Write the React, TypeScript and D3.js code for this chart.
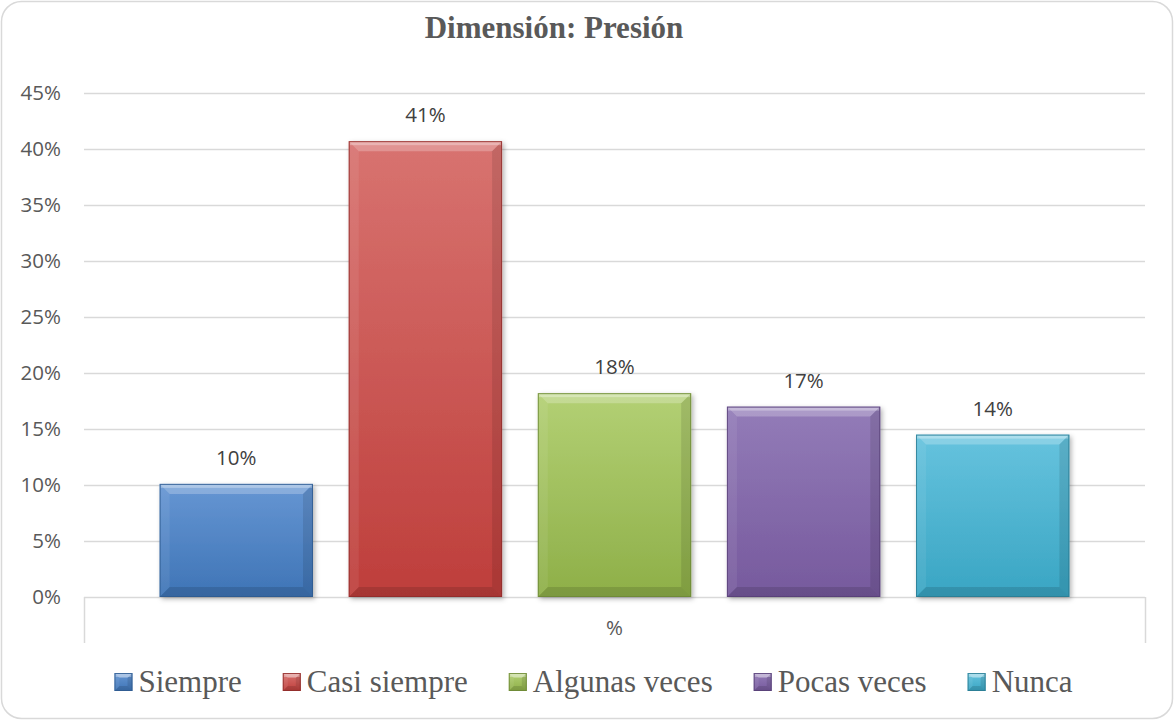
import React, { useEffect, useRef } from "react";
import * as d3 from "d3";

const title = "Dimensión: Presión";
const categories = ["%"];
const series = ["Siempre", "Casi siempre", "Algunas veces", "Pocas veces", "Nunca"];
const values = [0.101, 0.407, 0.182, 0.170, 0.145];
const yTicks = [0, 0.05, 0.1, 0.15, 0.2, 0.25, 0.3, 0.35, 0.4, 0.45];
const colorsTop = ["#6696d3", "#d87370", "#b3d074", "#937cb8", "#66c3de"];
const colorsBottom = ["#3e74b6", "#be3e3b", "#8eaf48", "#76599d", "#39a5c3"];
const colorsEdge = ["#2e5a8f", "#8f2c2a", "#6b8735", "#563f75", "#2a7a91"];

const W = 1174;
const H = 720;

export default function App() {
  const ref = useRef<SVGSVGElement | null>(null);

  useEffect(() => {
    const svg = d3.select(ref.current);
    svg.selectAll("*").remove();

    const defs = svg.append("defs");
    series.forEach((s, i) => {
      const g = defs.append("linearGradient").attr("id", "grad" + i).attr("x1", 0).attr("y1", 0).attr("x2", 0).attr("y2", 1);
      g.append("stop").attr("offset", "0%").attr("stop-color", colorsTop[i]);
      g.append("stop").attr("offset", "100%").attr("stop-color", colorsBottom[i]);
    });
    const f = defs.append("filter").attr("id", "shadow").attr("x", "-10%").attr("y", "-10%").attr("width", "130%").attr("height", "130%");
    f.append("feDropShadow").attr("dx", 2).attr("dy", 2).attr("stdDeviation", 2.5).attr("flood-color", "#000").attr("flood-opacity", 0.3);

    // border
    svg.append("rect").attr("x", 1.5).attr("y", 1.5).attr("width", W - 3).attr("height", H - 3)
      .attr("rx", 20).attr("ry", 20).attr("fill", "#fff").attr("stroke", "#d9d9d9").attr("stroke-width", 1.5);

    // title
    svg.append("text").attr("x", 554).attr("y", 38).attr("text-anchor", "middle")
      .attr("font-family", "'Liberation Serif', 'Times New Roman', serif").attr("font-weight", "bold")
      .attr("font-size", 31).attr("fill", "#595959").text(title);

    const x0 = d3.scaleBand<string>().domain(categories).range([84, 1145]).paddingInner(0).paddingOuter(0);
    const x1 = d3.scaleBand<string>().domain(series).range([0, x0.bandwidth()]).paddingInner(0.189).paddingOuter(0.4);
    const y = d3.scaleLinear().domain([0, 0.45]).range([597, 93]);

    // gridlines
    svg.append("g").selectAll("line").data(yTicks).join("line")
      .attr("x1", 84).attr("x2", 1145).attr("y1", (d) => Math.round(y(d)) + 0.5).attr("y2", (d) => Math.round(y(d)) + 0.5)
      .attr("stroke", "#d9d9d9").attr("stroke-width", 1.3);

    // y labels
    svg.append("g").selectAll("text").data(yTicks).join("text")
      .attr("x", 61).attr("y", (d) => y(d) + 7).attr("text-anchor", "end")
      .attr("font-family", "'Open Sans', sans-serif").attr("font-size", 20.5).attr("fill", "#595959")
      .text((d) => d3.format(".0%")(d));

    // category axis ticks
    [84, 1145].forEach((xx) => {
      svg.append("line").attr("x1", xx + 0.5).attr("x2", xx + 0.5).attr("y1", 597).attr("y2", 643)
        .attr("stroke", "#d9d9d9").attr("stroke-width", 1.5);
    });
    svg.append("text").attr("x", (x0(categories[0]) as number) + x0.bandwidth() / 2).attr("y", 635)
      .attr("text-anchor", "middle").attr("font-family", "'Open Sans', sans-serif").attr("font-size", 20.5)
      .attr("fill", "#595959").text(categories[0]);

    const drawBevel = (g: any, bx: number, by: number, bw: number, bh: number, i: number, b: number, shadow: boolean) => {
      const grp = g.append("g");
      if (shadow) grp.attr("filter", "url(#shadow)");
      grp.append("rect").attr("x", bx).attr("y", by).attr("width", bw).attr("height", bh)
        .attr("fill", `url(#grad${i})`);
      const bb = Math.min(b, bh / 2, bw / 2);
      const poly = (pts: number[][], fill: string, op: number) =>
        g.append("polygon").attr("points", pts.map((p) => p.join(",")).join(" ")).attr("fill", fill).attr("opacity", op);
      poly([[bx, by], [bx + bw, by], [bx + bw - bb, by + bb], [bx + bb, by + bb]], "#fff", 0.24);
      poly([[bx, by], [bx + bb, by + bb], [bx + bb, by + bh - bb], [bx, by + bh]], "#fff", 0.07);
      poly([[bx + bw, by], [bx + bw, by + bh], [bx + bw - bb, by + bh - bb], [bx + bw - bb, by + bb]], "#000", 0.1);
      poly([[bx, by + bh], [bx + bb, by + bh - bb], [bx + bw - bb, by + bh - bb], [bx + bw, by + bh]], "#000", 0.12);
      g.append("rect").attr("x", bx + 1).attr("y", by + 1).attr("width", bw - 2).attr("height", Math.min(3, bh / 4))
        .attr("fill", "#fff").attr("opacity", 0.3);
      g.append("rect").attr("x", bx + 0.5).attr("y", by + 0.5).attr("width", bw - 1).attr("height", bh - 1)
        .attr("fill", "none").attr("stroke", colorsEdge[i]).attr("stroke-width", 1).attr("opacity", 0.8);
    };

    // bars
    const barsG = svg.append("g");
    series.forEach((s, i) => {
      const bx = (x0(categories[0]) as number) + (x1(s) as number);
      const by = y(values[i]);
      const bw = x1.bandwidth();
      const bh = y(0) - by;
      drawBevel(barsG, bx, by, bw, bh, i, 10, true);
      barsG.append("text").attr("x", bx + bw / 2).attr("y", by - 19).attr("text-anchor", "middle")
        .attr("font-family", "'Open Sans', sans-serif").attr("font-size", 20.5).attr("fill", "#404040")
        .text(d3.format(".0%")(values[i]));
    });

    // legend
    const lg = svg.append("g");
    const sq = 18, gapText = 6, gapItem = 41;
    const items = series.map((s, i) => {
      const t = lg.append("text").attr("y", 692)
        .attr("font-family", "'Liberation Serif', 'Times New Roman', serif").attr("font-size", 31)
        .attr("fill", "#595959").text(s);
      const w = (t.node() as SVGTextElement).getComputedTextLength();
      return { t, w, i };
    });
    const total = items.reduce((a, it) => a + sq + gapText + it.w, 0) + gapItem * (items.length - 1);
    let cx = 593.5 - total / 2;
    items.forEach((it) => {
      const sg = lg.append("g");
      drawBevel(sg, cx, 673, sq, sq, it.i, 5, false);
      it.t.attr("x", cx + sq + gapText);
      cx += sq + gapText + it.w + gapItem;
    });
  }, []);

  return (
    <svg ref={ref} width={W} height={H} style={{ position: "absolute", left: 0, top: 0, background: "#fff" }} />
  );
}
